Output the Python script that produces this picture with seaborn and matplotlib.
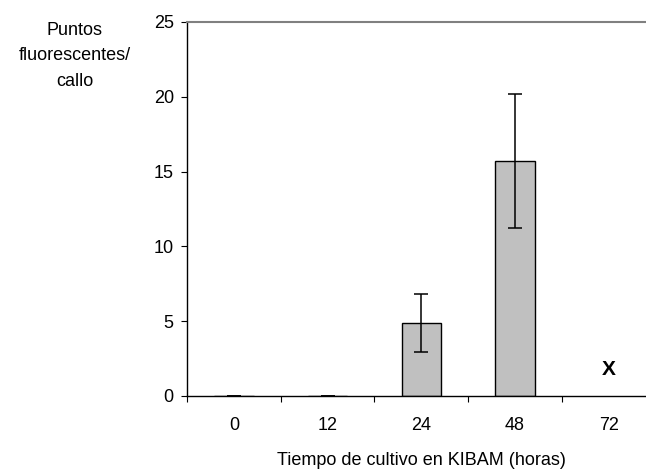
import numpy as np
import pandas as pd
import matplotlib
matplotlib.use("Agg")
import matplotlib.pyplot as plt
import seaborn as sns

# Data
horas = ["0", "12", "24", "48", "72"]
puntos = [0.0, 0.0, 4.9, 15.7, np.nan]
error = [0.0, 0.0, 1.95, 4.5, np.nan]
no_medido = ["", "", "", "", "X"]
yticks = [0, 5, 10, 15, 20, 25]

sns.set_theme(style="white")
plt.rcParams['font.family'] = ['Liberation Sans', 'DejaVu Sans']

df = pd.DataFrame({"horas": horas, "puntos": puntos})

fig = plt.figure(figsize=(6.46, 4.70), dpi=100)
ax = fig.add_axes([187/646, 74/470, 468.5/646, 374/470])

sns.barplot(data=df, x="horas", y="puntos", order=horas, color="#C0C0C0",
            edgecolor="black", linewidth=1.0, width=0.42, saturation=1,
            errorbar=None, ax=ax)
xs = np.arange(len(horas))
ax.errorbar(xs, puntos, yerr=error, fmt="none", ecolor="black",
            elinewidth=1.1, capsize=5.2, capthick=1.1, zorder=5)
for x, lab in zip(xs, no_medido):
    if lab:
        ax.text(x, 1.75, lab, ha="center", va="center", fontsize=15,
                fontweight="bold", color="black")

ax.set_xlim(-0.5, len(horas) - 0.5)
ax.set_ylim(0, 25)
ax.set_yticks(yticks)
ax.set_yticklabels([str(v) for v in yticks])

# Category boundary ticks
ax.set_xticks(np.arange(-0.5, len(horas), 1.0), minor=True)
ax.tick_params(axis="x", which="minor", bottom=True, length=4.5, width=0.8,
               color="black", direction="out")
ax.tick_params(axis="x", which="major", bottom=False, length=0, pad=15,
               labelsize=13, labelcolor="black")
ax.tick_params(axis="y", which="major", left=True, length=4.5, width=0.8,
               color="black", direction="out", pad=5, labelsize=13,
               labelcolor="black")

for side in ["left", "bottom"]:
    ax.spines[side].set_color("black")
    ax.spines[side].set_linewidth(1.0)
ax.spines["top"].set_color("#808080")
ax.spines["top"].set_linewidth(1.5)
ax.spines["right"].set_visible(False)

ax.set_xlabel("Tiempo de cultivo en KIBAM (horas)", fontsize=13,
              color="black")
ax.xaxis.set_label_coords((421 - 187) / 468.5, -(452 - 396) / 374)
ax.set_ylabel("")
fig.text(75/646, 1 - 56/470, "Puntos\nfluorescentes/\ncallo", ha="center",
         va="center", fontsize=13, linespacing=1.65, color="black")

fig.savefig("out.png", dpi=100)
